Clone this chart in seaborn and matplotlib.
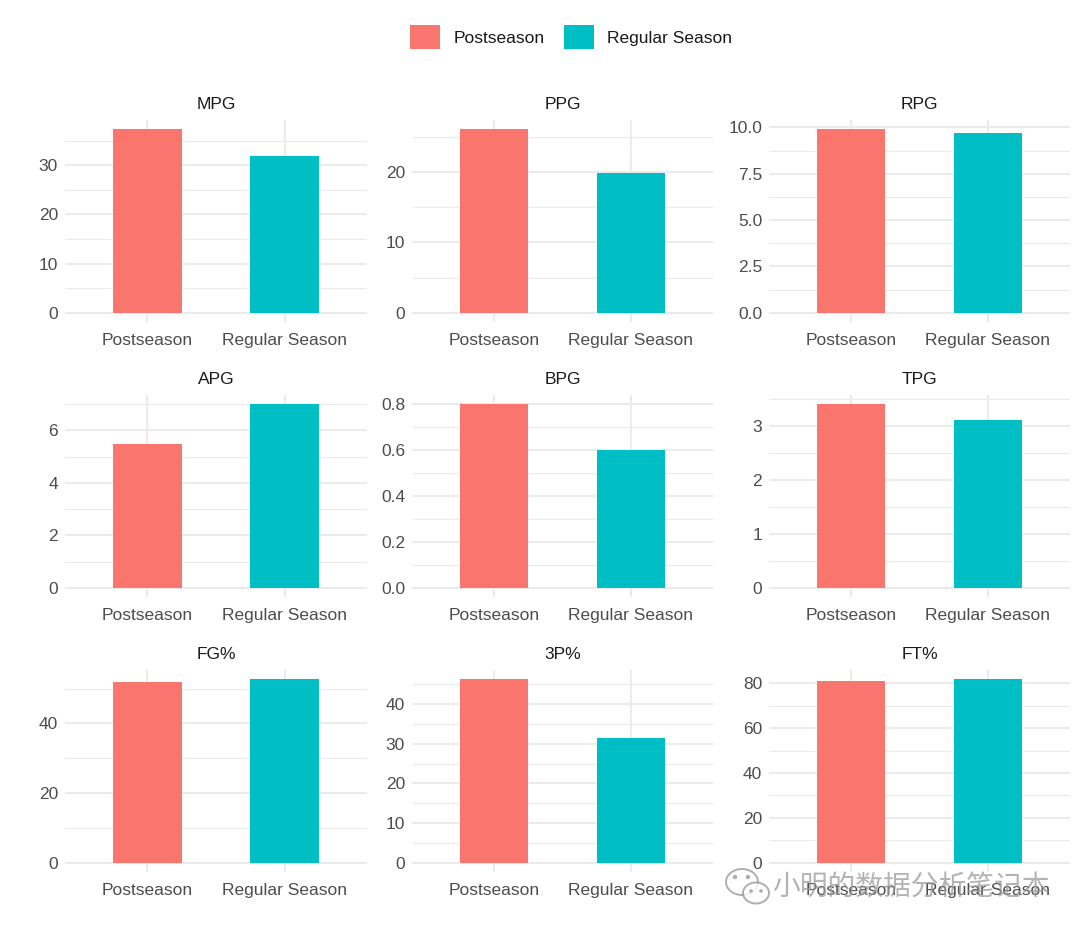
import numpy as np
import pandas as pd
import matplotlib
matplotlib.use("Agg")
import matplotlib.pyplot as plt
import seaborn as sns
from matplotlib.ticker import MultipleLocator, FormatStrFormatter
from matplotlib.patches import Patch, Ellipse

# ---------------- data ----------------
seasons = ["Postseason", "Regular Season"]
stats = ["MPG", "PPG", "RPG", "APG", "BPG", "TPG", "FG%", "3P%", "FT%"]
postseason = [37.3, 26.1, 9.9, 5.5, 0.8, 3.4, 52.0, 46.3, 80.9]
regular = [31.9, 19.9, 9.7, 7.0, 0.6, 3.1, 52.7, 31.4, 81.8]
major_step = [10, 10, 2.5, 2, 0.2, 1, 20, 10, 20]
tick_fmt = ["%.0f", "%.0f", "%.1f", "%.0f", "%.1f", "%.0f", "%.0f", "%.0f", "%.0f"]
colors = ["#F8766D", "#00BFC4"]
watermark = "小明的数据分析笔记本"

rows = []
for i, s in enumerate(stats):
    rows.append({"stat": s, "season": seasons[0], "value": postseason[i]})
    rows.append({"stat": s, "season": seasons[1], "value": regular[i]})
df = pd.DataFrame(rows)
palette = dict(zip(seasons, colors))

# ---------------- style ----------------
sns.set_theme(style="white")
plt.rcParams["font.family"] = ["Liberation Sans", "Noto Sans CJK SC", "DejaVu Sans"]

W, H = 1080, 935
fig = plt.figure(figsize=(W / 100, H / 100), dpi=100)
fig.patch.set_facecolor("white")

col_px = [(65, 367), (412, 713), (769, 1070)]
row_px = [(120, 322), (395, 597), (670, 872)]
fs = 12.5
grid_col = "#EBEBEB"

for i, s in enumerate(stats):
    r, c = divmod(i, 3)
    l, rr = col_px[c]
    t, b = row_px[r]
    ax = fig.add_axes([l / W, 1 - b / H, (rr - l) / W, (b - t) / H])
    sub = df[df["stat"] == s]
    sns.barplot(data=sub, x="season", y="value", hue="season", order=seasons,
                hue_order=seasons, palette=palette, width=0.5, saturation=1,
                legend=False, linewidth=0, errorbar=None, ax=ax)
    ymax = sub["value"].max()
    ax.set_xlim(-0.6, 1.6)
    ax.set_ylim(-0.05 * ymax, 1.05 * ymax)
    step = major_step[i]
    ax.yaxis.set_major_locator(MultipleLocator(step))
    ax.yaxis.set_minor_locator(MultipleLocator(step / 2))
    ax.yaxis.set_major_formatter(FormatStrFormatter(tick_fmt[i]))
    ax.set_axisbelow(True)
    ax.grid(which="major", axis="both", color=grid_col, linewidth=1.5)
    ax.grid(which="minor", axis="y", color=grid_col, linewidth=0.8)
    for sp in ax.spines.values():
        sp.set_visible(False)
    ax.tick_params(axis="both", which="both", length=0, labelsize=fs,
                   labelcolor="#4D4D4D")
    ax.tick_params(axis="x", pad=8)
    ax.tick_params(axis="y", pad=5)
    ax.set_xlabel("")
    ax.set_ylabel("")
    ax.set_title(s, fontsize=fs, color="#1A1A1A", pad=8)
    ax.set_facecolor("white")

# legend
handles = [Patch(facecolor=colors[k], edgecolor="none", label=seasons[k]) for k in range(2)]
fig.legend(handles=handles, loc="center", bbox_to_anchor=(571 / W, 1 - 37 / H),
           ncol=2, frameon=False, fontsize=fs, handlelength=1.76, handleheight=1.76,
           handletextpad=0.76, columnspacing=1.1, borderpad=0, labelcolor="#1A1A1A")

# watermark (WeChat style)
wm_col = "#9a9a9a"
e1 = Ellipse((742 / W, 1 - 882 / H), 32 / W, 26 / H, transform=fig.transFigure,
             facecolor="white", edgecolor=wm_col, linewidth=1.4, alpha=0.8)
e2 = Ellipse((756 / W, 1 - 893 / H), 26 / W, 21 / H, transform=fig.transFigure,
             facecolor="white", edgecolor=wm_col, linewidth=1.4, alpha=0.8)
fig.add_artist(e1)
fig.add_artist(e2)
for (ex, ey, rad) in [(735, 877, 2.2), (748, 877, 2.2), (751, 891, 1.8), (761, 891, 1.8)]:
    fig.add_artist(Ellipse((ex / W, 1 - ey / H), rad * 2 / W, rad * 2 / H,
                           transform=fig.transFigure, facecolor=wm_col,
                           edgecolor="none", alpha=0.8))
fig.text(772 / W, 1 - 887 / H, watermark, fontsize=20, color=wm_col, alpha=0.75,
         ha="left", va="center", family=["Noto Sans CJK SC", "DejaVu Sans"])

fig.savefig("out.png", dpi=100, facecolor="white")
